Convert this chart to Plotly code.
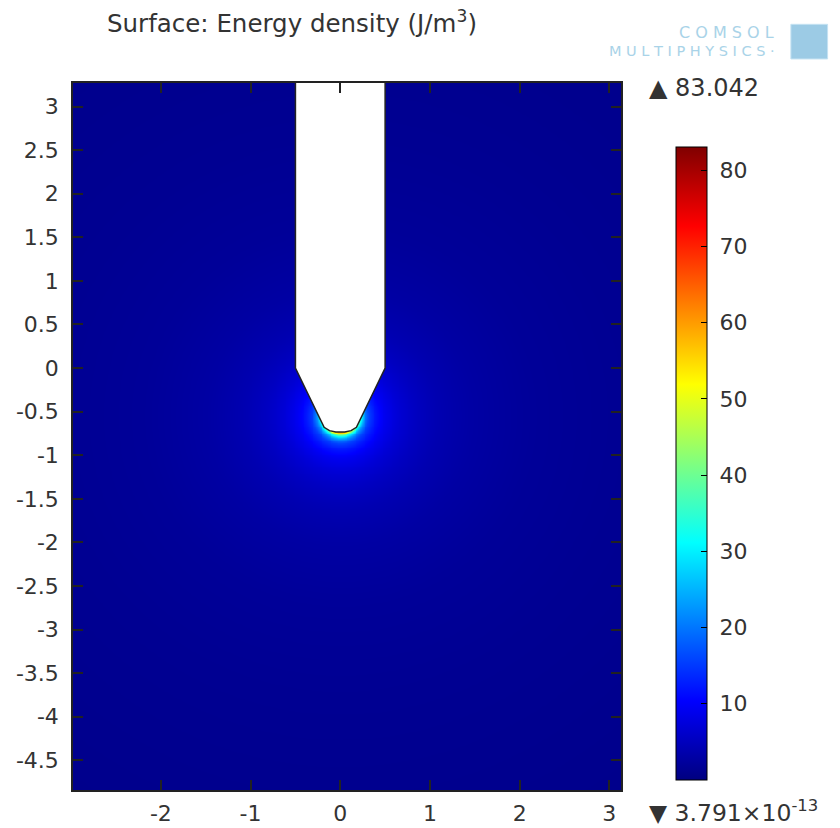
import numpy as np
import plotly.graph_objects as go

# ---------------- data ----------------
x_tickvals = [-2, -1, 0, 1, 2, 3]
x_ticktext = ["-2", "-1", "0", "1", "2", "3"]
y_tickvals = [-4.5, -4, -3.5, -3, -2.5, -2, -1.5, -1, -0.5, 0, 0.5, 1, 1.5, 2, 2.5, 3]
y_ticktext = ["-4.5", "-4", "-3.5", "-3", "-2.5", "-2", "-1.5", "-1", "-0.5",
              "0", "0.5", "1", "1.5", "2", "2.5", "3"]
cbar_tickvals = [10, 20, 30, 40, 50, 60, 70, 80]
cbar_ticktext = ["\u00a010", "\u00a020", "\u00a030", "\u00a040",
                 "\u00a050", "\u00a060", "\u00a070", "\u00a080"]
field_min = 3.791e-13
field_max = 83.042

# energy density vs distance from the tip surface
profile_dist = [0.0, 0.015, 0.04, 0.08, 0.13, 0.2, 0.3, 0.45, 0.65, 0.9, 1.3, 2.0, 3.0, 5.0]
profile_val = [60.0, 50.0, 34.0, 22.0, 15.5, 12.0, 9.2, 7.0, 5.3, 4.0, 2.9, 2.0, 1.5, 1.0]
tip_center = (0.0, -0.55)
tip_radius = 0.185

# probe outline
probe_x = [-0.5, -0.5, -0.18, -0.12, -0.05, 0.0, 0.05, 0.12, 0.18, 0.5, 0.5]
probe_y = [3.6, 0.0, -0.68, -0.718, -0.733, -0.736, -0.733, -0.718, -0.68, 0.0, 3.6]

x_range = [-2.98, 3.13]
y_range = [-4.84, 3.27]

# ---------------- field grid ----------------
xs = np.arange(-3.02, 3.17, 0.02)
ys = np.arange(-4.88, 3.31, 0.02)
X, Y = np.meshgrid(xs, ys)
R = np.sqrt((X - tip_center[0]) ** 2 + (Y - tip_center[1]) ** 2)
D = np.clip(R - tip_radius, 0, None)
Z = np.exp(np.interp(D, profile_dist, np.log(profile_val)))
Z = np.round(Z, 3)

jet = [
    [0.0, "rgb(0,0,128)"],
    [0.125, "rgb(0,0,255)"],
    [0.375, "rgb(0,255,255)"],
    [0.625, "rgb(255,255,0)"],
    [0.875, "rgb(255,0,0)"],
    [1.0, "rgb(128,0,0)"],
]

FONT = "DejaVu Sans"
fig = go.Figure()

fig.add_trace(go.Heatmap(
    x=xs, y=ys, z=Z,
    colorscale=jet, zmin=field_min, zmax=field_max, zsmooth="best",
    hoverinfo="skip",
    colorbar=dict(
        x=1.1004, xanchor="left", xpad=0,
        y=0.4618, yanchor="middle", ypad=0,
        len=633, lenmode="pixels",
        thickness=31, thicknessmode="pixels",
        outlinecolor="black", outlinewidth=1,
        tickvals=cbar_tickvals, ticktext=cbar_ticktext,
        ticks="inside", ticklen=6, tickcolor="black",
        tickfont=dict(family=FONT, size=22, color="#333"),
    ),
))

fig.add_trace(go.Scatter(
    x=probe_x, y=probe_y, mode="lines", fill="toself",
    fillcolor="white", line=dict(color="#222", width=1.5),
    hoverinfo="skip", showlegend=False,
))

axis_common = dict(
    showline=True, linecolor="#222", linewidth=1.5, mirror="ticks",
    ticks="inside", ticklen=10, tickcolor="#222", tickwidth=1.5,
    showgrid=False, zeroline=False, automargin=False,
    tickfont=dict(family=FONT, size=22, color="#333"),
)

fig.update_layout(
    width=840, height=828,
    margin=dict(l=73, r=219, t=83, b=38, autoexpand=False),
    paper_bgcolor="white", plot_bgcolor="white",
    showlegend=False,
    xaxis=dict(range=x_range, tickvals=x_tickvals, ticktext=x_ticktext,
               ticklabelstandoff=3, **axis_common),
    yaxis=dict(range=y_range, tickvals=y_tickvals, ticktext=y_ticktext,
               ticklabelstandoff=8, **axis_common),
    annotations=[
        dict(text="Surface: Energy density (J/m<sup>3</sup>)", xref="paper", yref="paper",
             x=0.059, y=1.086, xanchor="left", yanchor="middle", showarrow=False,
             font=dict(family=FONT, size=24.5, color="#333")),
        dict(text="▲ 83.042", xref="paper", yref="paper",
             x=1.047, y=0.993, xanchor="left", yanchor="middle", showarrow=False,
             font=dict(family=FONT, size=24, color="#333")),
        dict(text="▼ 3.791×10<sup>-13</sup>", xref="paper", yref="paper",
             x=1.047, y=-0.030, xanchor="left", yanchor="middle", showarrow=False,
             font=dict(family=FONT, size=23.5, color="#333")),
        dict(text="C O M S O L", xref="paper", yref="paper",
             x=1.102, y=1.072, xanchor="left", yanchor="middle", showarrow=False,
             font=dict(family=FONT, size=16, color="#a9d3e8")),
        dict(text="M U L T I P H Y S I C S ·", xref="paper", yref="paper",
             x=0.974, y=1.045, xanchor="left", yanchor="middle", showarrow=False,
             font=dict(family=FONT, size=14.5, color="#a9d3e8")),
    ],
    shapes=[
        dict(type="rect", xref="paper", yref="paper",
             x0=1.310, x1=1.377, y0=1.034, y1=1.083,
             fillcolor="#9ccbe5", line=dict(color="#c4e2f2", width=1)),
    ],
)

fig.write_html("out.html")
